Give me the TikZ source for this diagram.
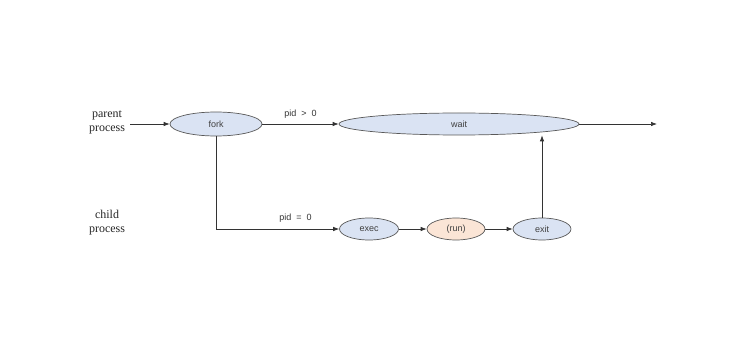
\documentclass[tikz,border=0pt]{standalone}
\usepackage{fontspec}
\setmainfont{Liberation Serif}
\setsansfont{Liberation Sans}
\usetikzlibrary{shapes.geometric,arrows.meta}
\definecolor{nodeblue}{HTML}{DAE3F3}
\definecolor{nodepeach}{HTML}{FBE5D6}
\definecolor{edgegrey}{HTML}{595959}
\tikzset{
  proc/.style={ellipse, draw=edgegrey, line width=0.7pt, fill=nodeblue, inner sep=0pt, font=\sffamily\fontsize{9}{10}\selectfont, text=black!75},
  conn/.style={line width=0.7pt, draw=black!80, -{Latex[length=6pt,width=4.5pt]}},
  side/.style={font=\fontsize{12}{14}\selectfont, align=center, text=black!85},
  elabel/.style={font=\sffamily\fontsize{9}{10}\selectfont, text=black!80}
}
\begin{document}
\begin{tikzpicture}[x=1pt,y=-1pt]
\useasboundingbox (0,0) rectangle (743,355);
\node[side] (parent) at (107,122) {parent\\process};
\node[side] (child) at (107,223) {child\\process};
\coordinate (pin) at (130,124);
\node[proc, minimum width=92pt, minimum height=24pt] (fork) at (216,124) {fork};
\node[proc, minimum width=240pt, minimum height=22pt] (wait) at (459,124) {wait};
\coordinate (pout) at (657,124);
\node[proc, minimum width=59pt, minimum height=22pt] (exec) at (369,229) {exec};
\node[proc, fill=nodepeach, minimum width=58pt, minimum height=22pt] (run) at (456,229) {(run)};
\node[proc, minimum width=58pt, minimum height=22pt] (exit) at (542,229) {exit};
\coordinate (corner) at (216,229);
\draw[conn] (pin) -- (fork);
\draw[conn] (fork) -- node[elabel, above=2pt] {pid\ \ {>}\ \ 0} (wait);
\draw[conn] (wait.east) -- (pout);
\draw[conn] (fork.south) -- (corner) -- node[elabel, above=3pt, pos=0.645] {pid\ \ {=}\ \ 0} (exec.west);
\draw[conn] (exec) -- (run);
\draw[conn] (run) -- (exit);
\draw[conn] (exit.north) -- (exit.north |- wait.south);
\end{tikzpicture}
\end{document}
